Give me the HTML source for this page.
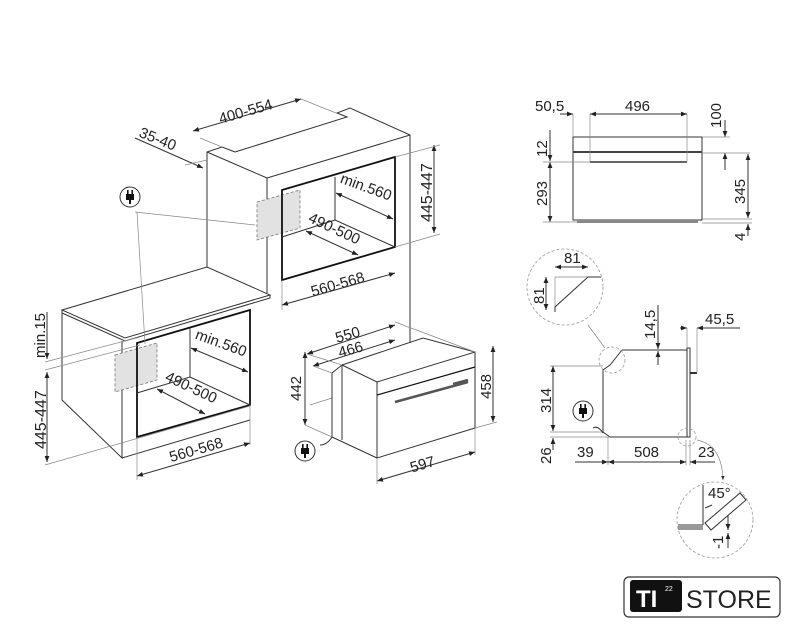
<!DOCTYPE html>
<html><head><meta charset="utf-8"><style>
html,body{margin:0;padding:0;background:#fff;width:791px;height:640px;overflow:hidden}
svg{display:block}
text{font-family:"Liberation Sans",sans-serif;font-size:15px;fill:#222}
.l{stroke:#333;stroke-width:1;fill:none}
.t{stroke:#888;stroke-width:.7;fill:none}
.b{stroke:#111;stroke-width:1.8;fill:none}
.d{stroke:#777;stroke-width:.8;fill:#e2e2e2;stroke-dasharray:3 2}
.c{stroke:#999;stroke-width:.8;fill:none;stroke-dasharray:3 2}
</style></head><body>
<svg width="791" height="640" viewBox="0 0 791 640" xmlns="http://www.w3.org/2000/svg">
<defs><marker id="a" viewBox="0 0 10 10" refX="10" refY="5" markerWidth="6" markerHeight="6" orient="auto-start-reverse"><path d="M0,1 L10,5 L0,9z" fill="#222"/></marker>
<g id="plug"><circle r="10" fill="#fff" stroke="#333" stroke-width="1"/><rect x="-4" y="-3" width="8" height="6" fill="#111"/><rect x="-3" y="-7" width="1.6" height="4" fill="#111"/><rect x="1.4" y="-7" width="1.6" height="4" fill="#111"/><rect x="-1" y="3" width="2" height="4" fill="#111"/></g></defs>

<!-- upper tall cabinet -->
<polyline class="l" points="207,267 207,152 222,147 235,152"/>
<polyline class="l" points="235,152 347,117 337,113 350,108 410,135 410,343"/>
<line class="l" x1="207" y1="152" x2="267" y2="178"/>
<line class="l" x1="267" y1="178" x2="410" y2="135"/>
<line class="l" x1="267" y1="178" x2="267" y2="293"/>
<polygon class="d" points="257,202 300,190 300,228 257,240"/>
<polygon class="b" points="282,190 395,157 395,247 282,280"/>
<polyline class="l" points="335,177 335,220 395,247"/>
<line class="l" x1="335" y1="220" x2="282" y2="237"/>

<!-- countertop and lower cabinet -->
<polygon class="l" points="62,310 207,267 270,295 125,338" fill="#fff"/>
<polyline class="l" points="62,310 62,313 125,341 270,298 270,295"/>
<polyline class="l" points="62,313 62,400 122,458 122,341"/>
<line class="l" x1="122" y1="458" x2="250" y2="420"/>
<polygon class="d" points="115,355 157,343 157,380 115,392"/>
<polygon class="b" points="137,343 250,310 250,405 137,437"/>
<polyline class="l" points="190,328 190,377 250,405"/>
<line class="l" x1="190" y1="377" x2="137" y2="393"/>

<use href="#plug" x="130" y="197"/>
<line class="t" x1="135" y1="212" x2="255" y2="225"/>
<line class="t" x1="137" y1="212" x2="145" y2="344"/>

<!-- dims upper -->
<line class="l" x1="193" y1="131" x2="301" y2="99" marker-start="url(#a)" marker-end="url(#a)"/>
<text x="218" y="118" transform="rotate(-16 240 112)">400-554</text>
<line class="t" x1="301" y1="99" x2="336" y2="113"/>
<line class="t" x1="200" y1="138" x2="222" y2="147"/>
<text x="138" y="143" transform="rotate(22 155 140)">35-40</text>
<line class="l" x1="135" y1="138" x2="203" y2="168" marker-end="url(#a)"/>
<line class="t" x1="185" y1="165" x2="207" y2="160"/>
<line class="l" x1="434" y1="145" x2="434" y2="233" marker-start="url(#a)" marker-end="url(#a)"/>
<text x="432" y="222" transform="rotate(-90 432 222)" style="font-size:16px">445-447</text>
<line class="t" x1="395" y1="157" x2="440" y2="145"/>
<line class="t" x1="395" y1="247" x2="440" y2="234"/>
<text x="338" y="190" transform="rotate(20 360 190)">min.560</text>
<line class="l" x1="336" y1="193" x2="393" y2="219" marker-start="url(#a)" marker-end="url(#a)"/>
<text x="305" y="232" transform="rotate(25 330 232)">490-500</text>
<line class="l" x1="306" y1="231" x2="358" y2="255" marker-start="url(#a)" marker-end="url(#a)"/>
<text x="310" y="290" transform="rotate(-16 335 284)">560-568</text>
<line class="l" x1="282" y1="305" x2="395" y2="273" marker-start="url(#a)" marker-end="url(#a)"/>
<line class="t" x1="282" y1="280" x2="282" y2="310"/>

<!-- dims lower -->
<line class="l" x1="47" y1="312" x2="47" y2="359" marker-end="url(#a)"/>
<text x="45" y="358" transform="rotate(-90 45 358)">min.15</text>
<line class="l" x1="47" y1="372" x2="47" y2="462" marker-start="url(#a)" marker-end="url(#a)"/>
<text x="46" y="449" transform="rotate(-90 46 449)" style="font-size:16px">445-447</text>
<line class="t" x1="45" y1="362" x2="140" y2="337"/>
<line class="t" x1="45" y1="370" x2="140" y2="345"/>
<line class="t" x1="45" y1="465" x2="250" y2="406"/>
<text x="193" y="346" transform="rotate(20 215 346)">min.560</text>
<line class="l" x1="191" y1="348" x2="248" y2="372" marker-start="url(#a)" marker-end="url(#a)"/>
<text x="162" y="390" transform="rotate(25 185 390)">490-500</text>
<line class="l" x1="157" y1="389" x2="205" y2="414" marker-start="url(#a)" marker-end="url(#a)"/>
<text x="168" y="455" transform="rotate(-16 195 448)">560-568</text>
<line class="l" x1="137" y1="476" x2="250" y2="443" marker-start="url(#a)" marker-end="url(#a)"/>
<line class="t" x1="137" y1="437" x2="137" y2="480"/>
<line class="t" x1="250" y1="405" x2="250" y2="445"/>
<line class="t" x1="310" y1="405" x2="332" y2="398"/>

<!-- oven iso -->
<polygon class="l" points="377,382 475,352 475,428 377,458" fill="#e6e6e6"/>
<polyline class="l" points="342,365 423,338 475,352"/>
<line class="l" x1="342" y1="365" x2="377" y2="382"/>
<polyline class="l" points="342,365 332,373 332,437 377,458"/>
<line class="l" x1="342" y1="365" x2="342" y2="440"/>
<line class="b" x1="377" y1="395" x2="475" y2="367" style="stroke-width:1.2"/>
<line class="b" x1="395" y1="402" x2="468" y2="382" style="stroke-width:2.5;stroke:#555"/>
<line class="b" x1="453" y1="384" x2="468" y2="380" style="stroke-width:2.5;stroke:#555"/>
<path class="l" d="M332,437 q-5,8 -12,8"/>
<use href="#plug" x="305" y="451"/>
<line class="l" x1="307" y1="354" x2="395" y2="325" marker-start="url(#a)" marker-end="url(#a)"/>
<text x="335" y="339" transform="rotate(-16 350 334)">550</text>
<line class="l" x1="313" y1="366" x2="395" y2="340" marker-start="url(#a)" marker-end="url(#a)"/>
<text x="338" y="354" transform="rotate(-16 352 349)">466</text>
<line class="t" x1="395" y1="322" x2="475" y2="352"/>
<line class="t" x1="307" y1="354" x2="342" y2="365"/>
<line class="t" x1="313" y1="366" x2="332" y2="373"/>
<line class="l" x1="305" y1="352" x2="305" y2="425" marker-start="url(#a)" marker-end="url(#a)"/>
<text x="301" y="401" transform="rotate(-90 301 401)">442</text>
<line class="t" x1="305" y1="425" x2="332" y2="437"/>
<line class="l" x1="493" y1="346" x2="493" y2="422" marker-start="url(#a)" marker-end="url(#a)"/>
<text x="491" y="399" transform="rotate(-90 491 399)">458</text>
<line class="t" x1="475" y1="428" x2="497" y2="422"/>
<line class="l" x1="377" y1="481" x2="475" y2="452" marker-start="url(#a)" marker-end="url(#a)"/>
<text x="410" y="470" transform="rotate(-16 420 465)">597</text>
<line class="t" x1="377" y1="458" x2="377" y2="484"/>
<line class="t" x1="475" y1="428" x2="475" y2="455"/>

<!-- front view -->
<rect x="573" y="137" width="129" height="83" fill="#e6e6e6" class="l"/>
<line x1="573" y1="152" x2="702" y2="152" stroke="#444" stroke-width="2"/>
<line class="l" x1="590" y1="162" x2="687" y2="162" style="stroke-width:1.5"/>
<line class="t" x1="590" y1="114" x2="590" y2="162"/>
<line class="t" x1="687" y1="114" x2="687" y2="162"/>
<line class="t" x1="573" y1="114" x2="573" y2="137"/>
<rect x="577" y="220" width="121" height="3" fill="#888"/>
<text x="535" y="111">50,5</text>
<line class="l" x1="560" y1="114" x2="573" y2="114" marker-end="url(#a)"/>
<line class="l" x1="590" y1="114" x2="687" y2="114" marker-start="url(#a)" marker-end="url(#a)"/>
<text x="625" y="111">496</text>
<text x="721" y="128" transform="rotate(-90 721 128)">100</text>
<line class="l" x1="725" y1="120" x2="725" y2="137" marker-end="url(#a)"/>
<line class="l" x1="725" y1="170" x2="725" y2="153" marker-end="url(#a)"/>
<line class="t" x1="702" y1="137" x2="730" y2="137"/>
<line class="t" x1="702" y1="153" x2="750" y2="153"/>
<text x="547" y="157" transform="rotate(-90 547 157)">12</text>
<line class="l" x1="550" y1="130" x2="550" y2="161" marker-end="url(#a)"/>
<line class="l" x1="550" y1="162" x2="550" y2="222" marker-start="url(#a)" marker-end="url(#a)"/>
<text x="547" y="206" transform="rotate(-90 547 206)">293</text>
<line class="t" x1="543" y1="162" x2="590" y2="162"/>
<line class="t" x1="543" y1="222" x2="577" y2="222"/>
<line class="l" x1="748" y1="154" x2="748" y2="218" marker-start="url(#a)" marker-end="url(#a)"/>
<text x="745" y="204" transform="rotate(-90 745 204)">345</text>
<line class="t" x1="702" y1="219" x2="752" y2="219"/>
<line class="t" x1="702" y1="223" x2="752" y2="223"/>
<line class="l" x1="748" y1="236" x2="748" y2="224" marker-end="url(#a)"/>
<text x="745" y="241" transform="rotate(-90 745 241)">4</text>

<!-- side view -->
<polyline class="l" points="622,350 687,350 687,437 610,437 603,432 603,370 610,365 622,350"/>
<rect x="687" y="348" width="3" height="89" fill="#ddd" class="l"/>
<line class="l" x1="690" y1="373" x2="697" y2="373" style="stroke-width:2"/>
<circle cx="612" cy="360" r="13" class="c"/>
<circle cx="565" cy="287" r="38" class="c"/>
<line class="t" x1="605" y1="348" x2="588" y2="325"/>
<line class="t" x1="555" y1="277" x2="601" y2="277"/>
<line class="t" x1="555" y1="277" x2="555" y2="312"/>
<polyline class="l" points="555,312 555,307 588,277 601,277"/>
<line class="l" x1="555" y1="267" x2="588" y2="267" marker-start="url(#a)" marker-end="url(#a)"/>
<text x="564" y="263">81</text>
<line class="l" x1="546" y1="277" x2="546" y2="310" marker-start="url(#a)" marker-end="url(#a)"/>
<text x="544" y="304" transform="rotate(-90 544 304)">81</text>
<line class="l" x1="658" y1="305" x2="658" y2="349" marker-end="url(#a)"/>
<line class="l" x1="658" y1="365" x2="658" y2="351" marker-end="url(#a)"/>
<text x="655" y="339" transform="rotate(-90 655 339)">14,5</text>
<line class="l" x1="680" y1="328" x2="687" y2="328" marker-end="url(#a)"/>
<line class="l" x1="740" y1="328" x2="697" y2="328" marker-end="url(#a)"/>
<text x="705" y="324">45,5</text>
<line class="t" x1="697" y1="328" x2="697" y2="373"/>
<line class="t" x1="687" y1="328" x2="687" y2="348"/>
<line class="t" x1="550" y1="366" x2="603" y2="366"/>
<line class="l" x1="553" y1="366" x2="553" y2="431" marker-start="url(#a)" marker-end="url(#a)"/>
<text x="551" y="413" transform="rotate(-90 551 413)">314</text>
<line class="t" x1="550" y1="432" x2="603" y2="432"/>
<line class="t" x1="550" y1="437" x2="610" y2="437"/>
<line class="l" x1="553" y1="450" x2="553" y2="438" marker-end="url(#a)"/>
<text x="551" y="464" transform="rotate(-90 551 464)">26</text>
<use href="#plug" x="583" y="411"/>
<path class="l" d="M593,428 q5,-3 10,5"/>
<line class="t" x1="608" y1="437" x2="608" y2="465"/>
<line class="t" x1="686" y1="440" x2="686" y2="465"/>
<line class="t" x1="690" y1="440" x2="690" y2="465"/>
<line class="l" x1="575" y1="462" x2="608" y2="462" marker-end="url(#a)"/>
<text x="577" y="457">39</text>
<line class="l" x1="608" y1="462" x2="686" y2="462" marker-start="url(#a)" marker-end="url(#a)"/>
<text x="634" y="457">508</text>
<line class="l" x1="715" y1="462" x2="690" y2="462" marker-end="url(#a)"/>
<text x="698" y="457">23</text>
<circle cx="687" cy="437" r="9" class="c"/>
<path class="t" d="M697,440 q25,5 26,40" marker-end="url(#a)"/>
<circle cx="715" cy="520" r="38" class="c"/>
<line class="l" x1="703" y1="485" x2="703" y2="525"/>
<line class="l" x1="678" y1="525" x2="703" y2="525"/>
<rect x="678" y="526" width="25" height="4" fill="#999"/>
<polygon class="l" points="705,523 740,493 746,500 711,530" fill="#e4e4e4"/>
<text x="708" y="498">45°</text>
<line class="l" x1="705" y1="508" x2="712" y2="505"/>
<line class="l" x1="728" y1="515" x2="728" y2="530" marker-end="url(#a)"/>
<line class="l" x1="728" y1="548" x2="728" y2="533" marker-end="url(#a)"/>
<text x="723" y="549" transform="rotate(-90 723 549)">-1</text>

<!-- logo -->
<rect x="624" y="577" width="156" height="40" rx="5" fill="#fff" stroke="#333" stroke-width="1.2"/>
<rect x="630" y="580" width="52" height="32" rx="3" fill="#111"/>
<text x="636" y="607" style="font-size:24px;font-weight:bold;fill:#fff">TI</text>
<text x="665" y="591" style="font-size:7px;fill:#fff">22</text>
<text x="686" y="608" style="font-size:25px;fill:#222">STORE</text>
</svg>
</body></html>
